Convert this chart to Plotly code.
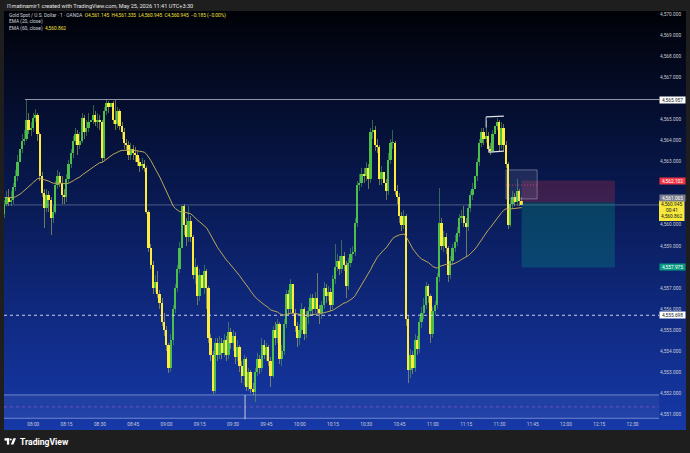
import base64, struct, zlib
import pandas as pd
import plotly.graph_objects as go

# ---------------- data ----------------
start_time = "2026-05-25 07:47"
first_open = 4560.5
closes = [
    4561.0, 4561.3, 4561.1, 4561.2, 4561.8, 4562.3, 4563.0, 4563.6, 4564.0, 4564.1,
    4565.0, 4564.5, 4564.6, 4565.1, 4565.2, 4564.3, 4562.3, 4561.5, 4560.8, 4561.4,
    4561.2, 4560.3, 4560.6, 4561.9, 4562.3, 4562.0, 4561.4, 4561.3, 4562.2, 4562.9,
    4563.4, 4564.0, 4564.3, 4563.8, 4564.0, 4565.1, 4564.4, 4564.6, 4564.9, 4565.0,
    4565.2, 4564.9, 4565.0, 4564.9, 4563.2, 4565.4, 4565.8, 4565.6, 4565.8, 4565.0,
    4564.8, 4565.4, 4564.7, 4564.4, 4563.9, 4563.8, 4563.3, 4563.6, 4563.4, 4563.3,
    4563.0, 4562.8, 4562.9, 4562.7, 4560.6, 4558.9, 4558.1, 4557.0, 4557.3, 4556.7,
    4556.3, 4555.4, 4555.0, 4554.3, 4553.2, 4554.5, 4556.0, 4557.0, 4557.9, 4558.9,
    4560.9, 4560.0, 4559.4, 4560.2, 4559.4, 4557.6, 4558.0, 4556.6, 4557.6, 4557.0,
    4557.8, 4557.0, 4554.6, 4553.8, 4552.1, 4554.4, 4553.8, 4554.4, 4553.9, 4554.5,
    4553.8, 4554.9, 4554.4, 4554.7, 4553.7, 4554.2, 4553.3, 4552.8, 4553.6, 4552.3,
    4553.0, 4552.2, 4552.05, 4553.0, 4553.6, 4553.2, 4554.3, 4553.8, 4554.2, 4553.5,
    4552.8, 4555.0, 4554.6, 4555.3, 4553.6, 4554.0, 4555.3, 4556.7, 4556.0, 4557.2,
    4555.8, 4555.2, 4554.6, 4555.0, 4556.0, 4554.8, 4555.6, 4555.9, 4556.5, 4556.0,
    4556.5, 4556.0, 4555.8, 4556.2, 4557.0, 4556.6, 4556.8, 4556.2, 4557.4, 4558.0,
    4558.3, 4557.9, 4558.5, 4558.1, 4557.1, 4558.2, 4558.6, 4558.7, 4560.1, 4561.9,
    4562.0, 4562.4, 4562.3, 4562.7, 4562.2, 4564.4, 4564.5, 4563.8, 4563.7, 4562.2,
    4562.5, 4562.0, 4561.6, 4563.1, 4563.9, 4563.9, 4561.6, 4561.3, 4560.4, 4560.0,
    4560.4, 4555.5, 4553.1, 4553.8, 4553.2, 4554.5, 4554.1, 4555.4, 4555.8, 4556.2,
    4557.1, 4556.6, 4554.8, 4555.9, 4556.2, 4557.5, 4560.1, 4559.0, 4559.4, 4558.9,
    4557.6, 4558.3, 4558.9, 4559.2, 4559.6, 4560.3, 4560.4, 4560.1, 4559.9, 4560.8,
    4561.4, 4561.7, 4562.3, 4563.0, 4563.9, 4564.4, 4564.1, 4564.2, 4563.6, 4563.5,
    4564.3, 4564.7, 4564.9, 4563.8, 4564.6, 4563.8, 4562.9, 4560.0, 4561.0, 4561.3,
    4561.1, 4561.6, 4561.145, 4560.945,
]
highs = [
    4561.2, 4561.6, 4561.7, 4561.6, 4562.0, 4562.6, 4563.3, 4564.0, 4564.3, 4564.5,
    4565.957, 4565.3, 4564.9, 4565.3, 4565.5, 4565.3, 4564.4, 4562.5, 4561.7, 4561.7,
    4561.6, 4561.3, 4560.9, 4562.1, 4562.6, 4562.5, 4562.3, 4561.7, 4562.4, 4563.1,
    4563.6, 4564.2, 4564.6, 4564.5, 4564.4, 4565.3, 4565.2, 4565.0, 4565.3, 4565.3,
    4565.7, 4565.4, 4565.3, 4565.2, 4565.0, 4565.6, 4565.93, 4565.9, 4565.9, 4565.9,
    4565.95, 4565.6, 4565.5, 4564.9, 4564.6, 4564.1, 4564.0, 4563.9, 4563.8, 4563.7,
    4563.5, 4563.2, 4563.2, 4563.1, 4562.8, 4560.7, 4559.1, 4558.3, 4557.6, 4557.8,
    4556.9, 4556.5, 4555.8, 4555.2, 4554.4, 4554.8, 4556.2, 4557.2, 4558.1, 4559.2,
    4561.0, 4561.0, 4560.3, 4560.9, 4560.4, 4559.5, 4558.4, 4558.1, 4557.9, 4558.2,
    4558.1, 4557.9, 4557.1, 4554.8, 4554.0, 4554.6, 4554.6, 4554.7, 4554.6, 4554.8,
    4554.7, 4555.4, 4555.1, 4555.0, 4554.9, 4554.5, 4554.3, 4553.5, 4553.8, 4553.7,
    4553.2, 4553.1, 4552.5, 4553.2, 4553.9, 4553.8, 4554.6, 4554.5, 4554.4, 4554.3,
    4553.7, 4555.2, 4555.4, 4555.5, 4555.4, 4554.3, 4555.5, 4556.9, 4556.9, 4557.4,
    4557.3, 4556.0, 4555.4, 4555.3, 4556.3, 4556.1, 4555.9, 4556.1, 4556.7, 4556.7,
    4556.8, 4557.7, 4556.2, 4556.4, 4557.3, 4557.2, 4557.1, 4557.0, 4557.6, 4559.1,
    4558.6, 4558.5, 4559.3, 4558.7, 4558.3, 4558.4, 4558.9, 4559.0, 4560.3, 4562.1,
    4562.4, 4562.7, 4562.7, 4563.0, 4562.9, 4564.6, 4565.0, 4564.7, 4564.1, 4563.8,
    4562.8, 4562.7, 4562.2, 4563.4, 4564.1, 4564.5, 4564.0, 4561.9, 4561.5, 4560.6,
    4560.7, 4560.5, 4555.7, 4554.1, 4554.0, 4554.8, 4554.7, 4555.6, 4556.1, 4556.5,
    4557.3, 4557.2, 4556.7, 4556.1, 4556.4, 4557.7, 4561.75, 4560.3, 4559.7, 4559.6,
    4559.0, 4558.5, 4559.1, 4559.5, 4559.9, 4560.5, 4560.7, 4560.9, 4560.3, 4561.0,
    4561.6, 4562.0, 4562.5, 4563.2, 4564.1, 4564.6, 4564.6, 4565.0, 4564.4, 4563.9,
    4564.5, 4565.0, 4565.1, 4565.0, 4564.9, 4564.8, 4564.0, 4563.0, 4561.2, 4561.6,
    4561.5, 4562.2, 4561.7, 4561.335,
]
lows = [
    4560.3, 4560.9, 4560.9, 4560.9, 4561.0, 4561.6, 4562.1, 4562.8, 4563.4, 4563.8,
    4564.0, 4564.3, 4564.2, 4564.4, 4564.9, 4564.0, 4562.1, 4561.3, 4559.85, 4560.6,
    4560.6, 4559.5, 4560.1, 4560.5, 4561.7, 4561.8, 4561.0, 4561.0, 4561.1, 4562.0,
    4562.7, 4563.2, 4563.8, 4563.3, 4563.6, 4563.9, 4564.1, 4564.2, 4564.4, 4564.6,
    4564.8, 4564.7, 4564.6, 4564.5, 4563.0, 4563.1, 4565.2, 4565.3, 4565.4, 4564.8,
    4564.5, 4564.6, 4564.5, 4564.1, 4563.6, 4563.5, 4563.1, 4563.1, 4563.1, 4563.0,
    4562.8, 4562.5, 4562.6, 4562.5, 4560.5, 4558.7, 4557.9, 4556.7, 4556.8, 4556.5,
    4556.0, 4555.2, 4554.7, 4554.0, 4552.95, 4553.0, 4554.3, 4555.8, 4556.8, 4557.7,
    4558.7, 4559.5, 4559.0, 4559.2, 4559.2, 4557.4, 4557.2, 4556.2, 4556.4, 4556.8,
    4556.7, 4556.0, 4554.4, 4553.5, 4551.95, 4552.0, 4553.5, 4553.6, 4553.6, 4553.7,
    4553.5, 4553.6, 4554.1, 4554.0, 4553.4, 4553.5, 4553.0, 4552.5, 4552.4, 4552.1,
    4552.1, 4552.0, 4551.9, 4551.57, 4552.8, 4552.9, 4553.0, 4553.6, 4553.5, 4553.3,
    4552.3, 4552.7, 4554.3, 4554.4, 4553.4, 4553.3, 4553.8, 4555.1, 4555.7, 4555.8,
    4555.5, 4554.9, 4554.2, 4554.3, 4554.8, 4554.5, 4554.6, 4555.3, 4555.7, 4555.7,
    4555.8, 4555.8, 4555.3, 4555.5, 4556.0, 4556.3, 4556.4, 4555.9, 4556.0, 4557.2,
    4557.8, 4557.6, 4557.7, 4557.8, 4556.5, 4556.9, 4558.0, 4558.3, 4558.5, 4559.9,
    4561.6, 4561.8, 4562.0, 4562.1, 4561.7, 4562.0, 4564.1, 4563.5, 4563.4, 4561.9,
    4561.9, 4561.7, 4561.2, 4561.4, 4562.9, 4563.6, 4561.4, 4561.0, 4560.1, 4559.7,
    4559.8, 4555.2, 4552.5, 4552.7, 4552.9, 4553.0, 4553.8, 4553.9, 4555.1, 4555.5,
    4556.0, 4556.3, 4554.4, 4554.6, 4555.7, 4556.0, 4557.3, 4558.8, 4558.7, 4558.6,
    4557.3, 4557.4, 4558.1, 4558.7, 4559.0, 4559.4, 4560.1, 4559.9, 4558.5, 4559.7,
    4560.6, 4561.2, 4561.5, 4562.1, 4562.8, 4563.7, 4563.8, 4563.9, 4563.4, 4563.3,
    4563.4, 4564.1, 4564.5, 4563.5, 4563.6, 4563.5, 4562.7, 4559.8, 4559.9, 4560.8,
    4560.9, 4560.9, 4560.9, 4560.945,
]
ema_seed = 4561.3       # EMA(60) value at the left edge of the picture
ema_length = 60

level_high = 4565.957
level_low = 4555.698
last_price = 4560.945
ema_last = 4560.862
entry_price = 4561.065
stop_price = 4562.102
target_price = 4557.975
zone_top = 4551.91
zone_mid = 4551.34
zone_bottom = 4550.80
y_ticks = [4551 + k for k in range(20)]
y_ticks_hidden = [4566, 4562, 4561, 4558]   # covered by the price-scale tags
x_tick_labels = ["08:00", "08:15", "08:30", "08:45", "09:00", "09:15", "09:30", "09:45",
                 "10:00", "10:15", "10:30", "10:45", "11:00", "11:15", "11:30", "11:45",
                 "12:00", "12:15", "12:30"]

# ---------------- derived ----------------
day = "2026-05-25"
times = pd.date_range(start_time, periods=len(closes), freq="1min")
opens = [first_open] + closes[:-1]
opens[-1] = 4561.145

alpha = 2.0 / (ema_length + 1)
ema = []
e = ema_seed
for c in closes:
    e = e + alpha * (c - e)
    ema.append(e)

GREEN = "#4cbe4a"
YELLOW = "#ffeb3b"
up = [c >= o for o, c in zip(opens, closes)]
body_base = [min(o, c) for o, c in zip(opens, closes)]
body_h = [max(abs(c - o), 0.035) for o, c in zip(opens, closes)]
body_col = [GREEN if u else YELLOW for u in up]
wick_col = ["rgba(90,170,90,0.55)" if u else "rgba(200,195,90,0.55)" for u in up]

W, H = 690, 453
ML, MR, MT, MB = 4, 31, 13, 33
PW, PH = W - ML - MR, H - MT - MB


def px(x):
    return (x - ML) / PW


def py(y):
    return (H - MB - y) / PH


y_lo = 4570 - (H - MB - 14.5) / 21.03
y_hi = 4570 + (14.5 - MT) / 21.03
x_lo = pd.Timestamp(day + " 08:00") + pd.Timedelta(minutes=(ML - 33.3) / 2.2196)
x_hi = pd.Timestamp(day + " 08:00") + pd.Timedelta(minutes=(W - MR - 33.3) / 2.2196)


# gradient background (png)
def make_png(rows):
    w = len(rows[0]) // 3
    raw = b"".join(b"\x00" + bytes(r) for r in rows)

    def chunk(tag, data):
        return struct.pack(">I", len(data)) + tag + data + struct.pack(">I", zlib.crc32(tag + data) & 0xFFFFFFFF)

    return (b"\x89PNG\r\n\x1a\n" + chunk(b"IHDR", struct.pack(">IIBBBBB", w, len(rows), 8, 2, 0, 0, 0))
            + chunk(b"IDAT", zlib.compress(raw)) + chunk(b"IEND", b""))


stops = [(0.0, (1, 2, 8)), (0.25, (5, 15, 50)), (0.5, (10, 29, 92)), (0.75, (16, 43, 132)), (1.0, (22, 57, 168))]
rows = []
N = 256
for r in range(N):
    f = r / (N - 1)
    for k in range(len(stops) - 1):
        if stops[k][0] <= f <= stops[k + 1][0]:
            t = (f - stops[k][0]) / (stops[k + 1][0] - stops[k][0])
            col = [int(round(a + (b - a) * t)) for a, b in zip(stops[k][1], stops[k + 1][1])]
            break
    rows.append(col * 2)
grad_uri = "data:image/png;base64," + base64.b64encode(make_png(rows)).decode()

fig = go.Figure()
fig.add_trace(go.Bar(x=times, y=[h - l for h, l in zip(highs, lows)], base=lows, width=26000,
                     marker=dict(color=wick_col, line=dict(width=0)), hoverinfo="skip"))
fig.add_trace(go.Bar(x=times, y=body_h, base=body_base, width=48000,
                     marker=dict(color=body_col, line=dict(width=0)), hoverinfo="skip"))
fig.add_trace(go.Scatter(x=times, y=ema, mode="lines", line=dict(color="#b9a85a", width=1), hoverinfo="skip"))

T = lambda s: f"{day} {s}"
shapes = [
    # zone at the bottom
    dict(type="rect", xref="paper", yref="y", x0=0, x1=1, y0=zone_bottom, y1=zone_top,
         fillcolor="rgba(255,255,255,0.06)", line=dict(width=0), layer="below"),
    dict(type="line", xref="paper", yref="y", x0=0, x1=1, y0=zone_top, y1=zone_top,
         line=dict(color="rgba(170,185,230,0.6)", width=1)),
    dict(type="line", xref="paper", yref="y", x0=0, x1=1, y0=zone_bottom, y1=zone_bottom,
         line=dict(color="rgba(170,185,230,0.6)", width=1)),
    dict(type="line", xref="paper", yref="y", x0=0, x1=1, y0=zone_mid, y1=zone_mid,
         line=dict(color="rgba(190,90,210,0.55)", width=1, dash="3px,3px")),
    dict(type="line", xref="x", yref="y", x0=T("09:35:24"), x1=T("09:35:24"), y0=zone_bottom - 0.05, y1=zone_top,
         line=dict(color="rgba(225,225,235,0.85)", width=1)),
    # horizontal levels
    dict(type="line", xref="x", yref="y", x0=T("07:56:15"), x1=x_hi, y0=level_high, y1=level_high,
         line=dict(color="rgba(200,200,210,0.75)", width=1)),
    dict(type="line", xref="paper", yref="y", x0=0, x1=1, y0=last_price, y1=last_price,
         line=dict(color="rgba(190,190,200,0.4)", width=1)),
    dict(type="line", xref="paper", yref="y", x0=0, x1=1, y0=level_low, y1=level_low,
         line=dict(color="rgba(235,235,245,0.85)", width=1, dash="3px,3px")),
    # position tool
    dict(type="rect", xref="x", yref="y", x0=T("11:40"), x1=T("12:22"), y0=entry_price, y1=stop_price,
         fillcolor="rgba(242,54,69,0.22)", line=dict(width=0)),
    dict(type="rect", xref="x", yref="y", x0=T("11:40"), x1=T("12:22"), y0=target_price, y1=entry_price,
         fillcolor="rgba(8,153,129,0.30)", line=dict(width=0)),
    # gray box
    dict(type="rect", xref="x", yref="y", x0=T("11:33"), x1=T("11:47"), y0=4561.23, y1=4562.61,
         fillcolor="rgba(190,190,210,0.12)", line=dict(color="rgba(190,190,210,0.45)", width=1)),
    dict(type="line", xref="x", yref="y", x0=T("11:33"), x1=T("11:47"), y0=4561.89, y1=4561.89,
         line=dict(color="rgba(233,60,120,0.8)", width=1, dash="1px,2px")),
    # bracket
    dict(type="line", xref="x", yref="y", x0=T("11:24"), x1=T("11:32"), y0=4565.13, y1=4565.17,
         line=dict(color="rgba(235,235,240,0.95)", width=1.3)),
    dict(type="line", xref="x", yref="y", x0=T("11:25:20"), x1=T("11:32"), y0=4563.46, y1=4563.50,
         line=dict(color="rgba(235,235,240,0.95)", width=1.3)),
    dict(type="line", xref="x", yref="y", x0=T("11:24"), x1=T("11:24"), y0=4565.13, y1=4564.62,
         line=dict(color="rgba(235,235,240,0.9)", width=1)),
    dict(type="line", xref="x", yref="y", x0=T("11:25:20"), x1=T("11:25:20"), y0=4563.46, y1=4563.75,
         line=dict(color="rgba(235,235,240,0.9)", width=1)),
    # yellow label block on the price scale
    dict(type="rect", xref="paper", yref="paper", x0=px(659), x1=px(684.5), y0=py(221), y1=py(200.5),
         fillcolor="#f7e93c", line=dict(width=0)),
    # TradingView logo mark
    dict(type="rect", xref="paper", yref="paper", x0=px(4.5), x1=px(9.2), y0=py(440.6), y1=py(438.2),
         fillcolor="white", line=dict(width=0)),
    dict(type="rect", xref="paper", yref="paper", x0=px(6.9), x1=px(9.2), y0=py(444.6), y1=py(438.2),
         fillcolor="white", line=dict(width=0)),
    dict(type="circle", xref="paper", yref="paper", x0=px(9.8), x1=px(11.8), y0=py(440.4), y1=py(438.4),
         fillcolor="white", line=dict(width=0)),
    dict(type="path", xref="paper", yref="paper",
         path=f"M {px(13.4)},{py(438.2)} L {px(16.0)},{py(438.2)} L {px(13.4)},{py(444.6)} L {px(10.8)},{py(444.6)} Z",
         fillcolor="white", line=dict(width=0)),
]

FONT = "Roboto, 'Noto Sans', sans-serif"
ann = []
ann.append(dict(x=px(5), y=py(6), xref="paper", yref="paper", xanchor="left", yanchor="middle", showarrow=False,
                text="l1matinamir1 created with TradingView.com, May 25, 2026 11:41 UTC+3:30",
                font=dict(family=FONT, size=5.6, color="#e6e6e6")))
ann.append(dict(x=px(7), y=py(15.6), xref="paper", yref="paper", xanchor="left", yanchor="middle", showarrow=False,
                text="Gold Spot / U.S. Dollar · 1 · OANDA  <span style='color:#f5e33a'>O4,561.145  H4,561.335  "
                     "L4,560.945  C4,560.945  −0.185 (−0.00%)</span>",
                font=dict(family=FONT, size=4.8, color="#d1d4dc")))
ann.append(dict(x=px(7), y=py(21.9), xref="paper", yref="paper", xanchor="left", yanchor="middle", showarrow=False,
                text="EMA (20, close)", font=dict(family=FONT, size=4.8, color="#d1d4dc")))
ann.append(dict(x=px(7), y=py(28.2), xref="paper", yref="paper", xanchor="left", yanchor="middle", showarrow=False,
                text="EMA (60, close)  <span style='color:#f5e33a'>4,560.862</span>",
                font=dict(family=FONT, size=4.8, color="#d1d4dc")))
ann.append(dict(x=px(18), y=py(441.5), xref="paper", yref="paper", xanchor="left", yanchor="middle", showarrow=False,
                text="<b>TradingView</b>", font=dict(family=FONT, size=8.6, color="#ffffff")))


def tag(ypix, text, bg, fg):
    ann.append(dict(x=px(659), y=py(ypix), xref="paper", yref="paper", xanchor="left", yanchor="middle",
                    showarrow=False, text=text, bgcolor=bg, width=24, height=5, borderpad=0.6,
                    font=dict(family=FONT, size=4.8, color=fg)))


def ypix_of(p):
    return 14.5 + (4570 - p) * 21.03


tag(ypix_of(level_high), f"{level_high:,.3f}", "#ffffff", "#131722")
tag(ypix_of(stop_price), f"{stop_price:,.3f}", "#f23645", "#ffffff")
tag(198.0, f"{entry_price:,.3f}", "#7b7f8c", "#ffffff")
tag(ypix_of(target_price), f"{target_price:,.3f}", "#089981", "#ffffff")
tag(ypix_of(level_low), f"{level_low:,.3f}", "#ffffff", "#131722")
for yp, tx in [(204.2, f"{last_price:,.3f}"), (210.4, "00:41"), (216.8, f"{ema_last:,.3f}")]:
    ann.append(dict(x=px(671.5), y=py(yp), xref="paper", yref="paper", xanchor="center", yanchor="middle",
                    showarrow=False, text=tx, font=dict(family=FONT, size=4.8, color="#131722")))

fig.update_layout(
    width=W, height=H, margin=dict(l=ML, r=MR, t=MT, b=MB),
    paper_bgcolor="#1e1e1e", plot_bgcolor="rgba(0,0,0,0)",
    showlegend=False, barmode="overlay", bargap=0,
    font=dict(family=FONT, color="#c9ccd6"),
    images=[dict(source=grad_uri, xref="paper", yref="paper", x=px(4), y=py(11),
                 sizex=px(686) - px(4), sizey=py(11) - py(430), xanchor="left", yanchor="top",
                 sizing="stretch", layer="below")],
    shapes=shapes, annotations=ann,
    xaxis=dict(type="date", range=[x_lo, x_hi], showgrid=False, zeroline=False, showline=False,
               tickmode="array",
               tickvals=[T(s) for s in x_tick_labels], ticktext=x_tick_labels,
               ticks="", tickfont=dict(family=FONT, size=4.8, color="#c9ccd6"), fixedrange=True),
    yaxis=dict(side="right", range=[y_lo, y_hi], showgrid=False, zeroline=False, showline=False,
               tickmode="array", tickvals=[v for v in y_ticks if v not in y_ticks_hidden],
               ticktext=[f"{v:,.3f}" for v in y_ticks if v not in y_ticks_hidden],
               ticks="", tickfont=dict(family=FONT, size=4.8, color="#c9ccd6"), fixedrange=True),
)

fig.write_html("out.html")
